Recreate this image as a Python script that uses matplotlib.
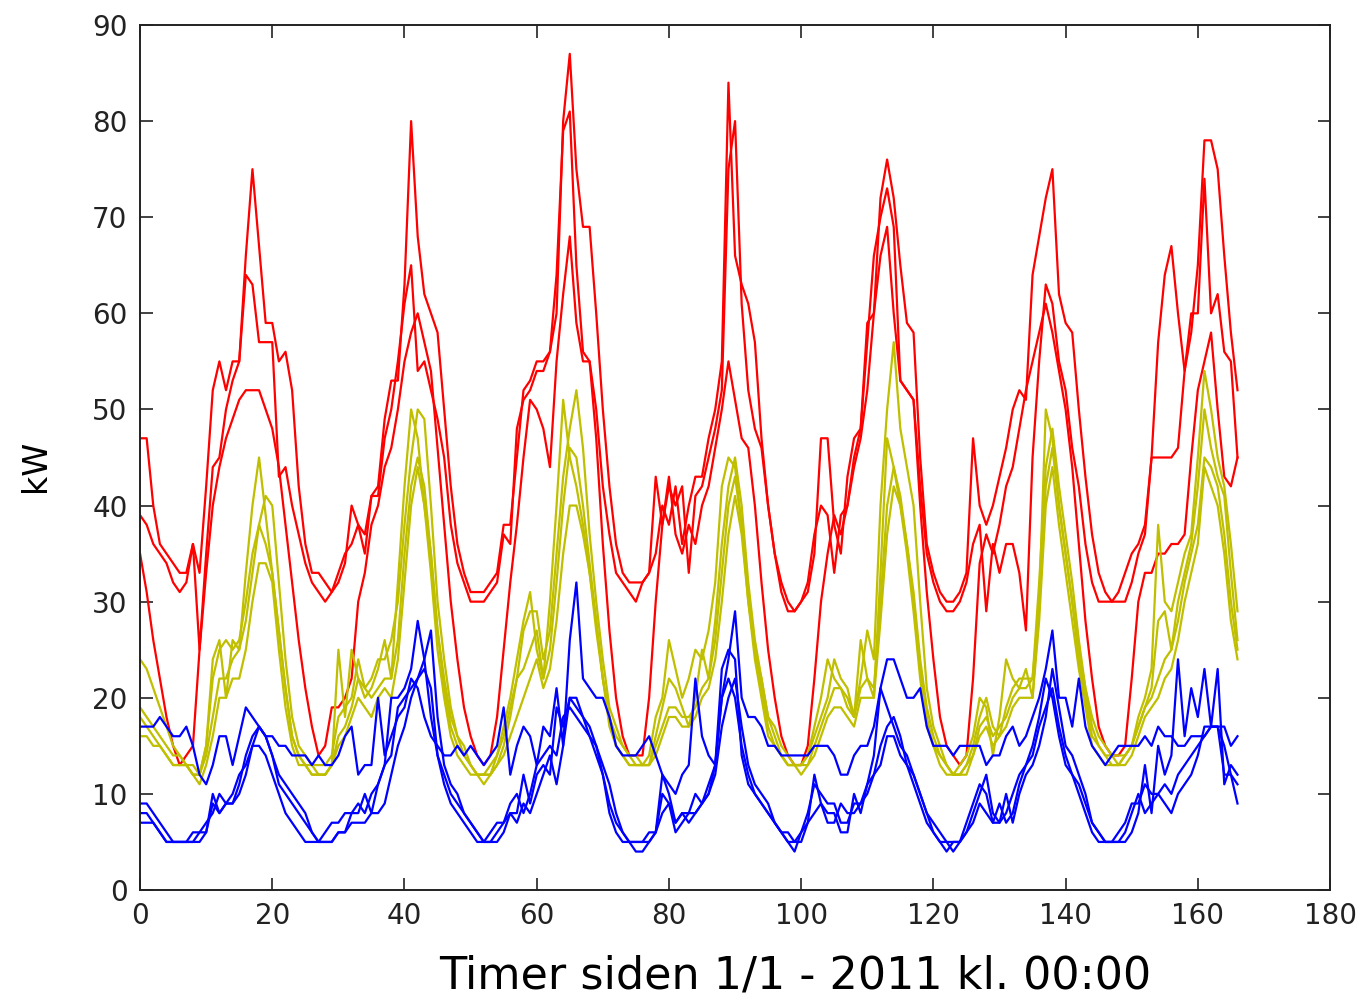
import numpy as np
import matplotlib
matplotlib.use('Agg')
import matplotlib.pyplot as plt

# hourly load per line, one list per day (last day has 23 hours)
red_1 = [
    [47,47,40,36,35,34,33,33,36,33,42,52,55,52,55,55,66,75,67,59,59,55,56,52],
    [42,36,33,33,32,31,32,34,40,38,35,41,42,49,53,53,63,80,68,62,60,58,50,42],
    [36,33,31,31,31,32,33,38,38,45,52,53,55,55,56,60,80,87,75,69,69,60,50,42],
    [36,33,32,32,32,33,35,40,38,42,36,40,43,43,47,50,55,84,66,63,61,57,47,40],
    [35,32,30,29,30,31,35,47,47,38,35,43,47,48,59,60,72,76,72,65,59,58,45,36],
    [33,31,30,30,31,33,47,40,38,40,43,46,50,52,51,64,68,72,75,62,59,58,50,43],
    [37,33,31,30,30,30,32,35,37,45,57,64,67,60,54,58,65,78,78,75,66,58,52],
]
red_2 = [
    [39,38,36,35,34,32,31,32,36,25,35,44,45,50,53,55,64,63,57,57,57,43,44,40],
    [37,34,32,31,30,31,33,35,36,38,37,41,41,47,50,55,61,65,54,55,52,49,45,38],
    [34,32,30,30,30,31,32,37,36,48,51,52,54,54,56,64,79,81,65,56,55,50,42,37],
    [33,32,31,30,32,33,43,38,42,40,42,33,41,42,45,48,52,75,80,61,52,48,46,40],
    [35,31,29,29,30,32,37,40,39,33,39,40,45,48,57,66,70,73,69,53,52,51,42,35],
    [32,30,29,29,30,32,36,38,29,36,33,36,36,33,27,45,55,63,61,55,52,46,42,36],
    [32,30,30,30,31,33,35,36,38,45,45,45,45,46,54,60,60,74,60,62,56,55,45],
]
red_3 = [
    [35,31,26,22,18,15,13,14,15,25,33,40,44,47,49,51,52,52,52,50,48,44,38,32],
    [26,21,17,14,15,19,19,20,22,30,33,38,40,44,46,50,55,58,60,57,54,46,38,30],
    [24,19,16,14,13,14,18,25,32,38,45,51,50,48,44,55,62,68,59,55,55,47,36,27],
    [20,16,14,14,14,20,30,38,43,37,35,38,36,40,42,46,50,55,51,47,46,40,32,25],
    [20,16,14,13,13,15,22,30,35,39,37,40,44,47,52,60,66,69,60,53,52,51,40,31],
    [24,18,15,14,13,14,22,34,37,35,38,42,44,48,52,55,58,61,58,54,50,44,36,28],
    [22,17,15,14,14,15,22,30,33,33,35,35,36,36,37,45,52,55,58,50,43,42,45],
]
yellow_1 = [
    [24,23,21,19,17,15,14,13,12,12,15,24,26,20,26,25,33,40,45,39,33,27,21,16],
    [14,13,13,12,12,13,25,18,25,22,20,21,23,26,22,32,42,50,47,40,35,27,22,18],
    [16,14,13,12,12,13,14,17,20,24,28,31,25,22,30,40,51,45,42,38,33,28,22,18],
    [16,15,14,13,13,14,18,20,26,23,20,22,25,24,27,32,42,45,44,38,30,25,22,18],
    [16,14,13,13,13,14,17,20,24,22,21,19,18,22,27,24,40,50,57,48,44,40,30,21],
    [17,15,13,12,13,14,16,20,19,14,18,24,22,21,23,20,30,50,47,40,35,30,25,21],
    [17,15,14,14,13,14,15,18,20,23,38,30,29,32,35,37,45,54,50,45,42,36,29],
]
yellow_2 = [
    [19,18,17,16,15,14,14,13,13,12,15,22,25,26,25,26,30,35,38,41,40,32,24,18],
    [15,14,13,13,13,14,18,19,20,24,21,22,24,24,26,30,38,45,50,49,40,30,24,19],
    [16,15,13,12,12,12,14,16,19,22,27,29,29,24,27,35,43,48,52,46,37,30,24,19],
    [17,15,14,14,13,13,16,19,22,21,19,17,20,25,22,28,36,42,45,40,32,26,22,18],
    [17,15,14,13,13,14,16,18,20,24,22,21,18,26,22,20,33,47,44,40,36,31,24,19],
    [16,14,13,12,12,13,15,18,20,17,16,19,21,22,22,22,32,44,48,42,37,32,26,21],
    [18,16,15,14,14,14,15,17,19,21,28,29,25,30,33,36,42,50,46,43,41,33,26],
]
yellow_3 = [
    [18,17,16,15,14,13,13,13,12,12,14,18,22,22,24,25,28,33,38,36,33,27,21,16],
    [14,13,12,12,12,13,16,17,19,22,21,20,21,22,22,26,35,42,45,42,35,27,21,17],
    [15,14,13,12,12,12,13,15,18,22,23,25,27,22,25,32,40,46,45,40,34,28,22,18],
    [15,14,13,13,13,13,15,17,19,19,18,18,19,21,22,26,33,40,43,38,31,25,21,17],
    [15,14,13,13,13,13,15,17,19,21,21,20,18,21,22,21,30,40,44,41,36,30,23,18],
    [15,14,13,12,12,13,14,17,18,16,17,18,20,21,21,22,30,42,46,40,35,30,24,20],
    [16,15,14,13,13,14,15,17,19,20,22,24,25,28,32,35,38,45,44,42,37,30,25],
]
yellow_4 = [
    [16,16,15,15,14,13,13,13,12,11,13,16,20,20,22,22,25,30,34,34,32,25,19,15],
    [13,13,12,12,12,13,15,16,18,20,19,18,20,21,20,24,32,40,44,40,33,25,20,16],
    [14,13,12,12,11,12,13,14,16,18,20,22,24,21,23,28,35,40,40,37,33,27,22,17],
    [15,14,13,13,13,13,14,16,18,18,17,17,18,20,21,24,30,37,41,37,30,24,20,16],
    [15,14,13,13,12,13,14,16,18,19,19,18,17,20,20,20,28,37,42,40,35,29,22,17],
    [15,13,12,12,12,12,14,16,17,15,16,17,19,20,20,20,28,40,44,38,33,28,23,19],
    [15,14,13,13,13,13,14,16,18,19,20,22,23,26,30,33,36,44,42,40,35,28,24],
]
blue_1 = [
    [17,17,17,18,17,16,16,17,15,12,11,13,16,16,13,16,19,18,17,16,16,15,15,14],
    [14,14,13,14,13,13,14,16,17,12,13,13,20,14,16,18,19,22,21,18,16,15,14,14],
    [15,14,15,14,13,14,15,19,12,15,17,16,13,17,16,21,15,26,32,22,21,20,20,18],
    [15,14,14,14,15,16,14,12,11,10,12,13,22,16,14,13,20,24,29,20,18,18,17,15],
    [15,14,14,14,14,14,15,15,15,14,12,12,14,15,15,17,21,24,24,22,20,20,21,17],
    [15,15,15,14,15,15,15,15,13,14,14,16,17,15,16,18,20,23,27,20,20,17,22,17],
    [15,14,13,14,15,15,15,15,16,15,17,16,16,15,15,16,16,16,17,17,17,15,16],
]
blue_2 = [
    [9,9,8,7,6,5,5,5,5,5,6,10,8,9,9,11,14,16,17,16,14,11,10,9],
    [8,7,6,5,5,5,6,6,8,8,10,8,11,13,20,20,21,23,28,24,18,14,12,10],
    [9,8,7,6,5,5,5,6,8,7,9,8,10,12,14,11,15,20,19,18,17,15,12,9],
    [7,6,5,5,5,5,6,12,10,7,8,8,10,9,10,13,23,25,24,14,11,10,9,8],
    [7,6,5,4,6,7,12,9,8,8,6,6,10,8,11,14,21,19,17,15,14,12,10,8],
    [6,5,5,4,5,6,8,10,12,8,7,10,7,10,12,13,15,18,23,19,15,14,12,10],
    [7,6,5,5,5,5,6,8,13,8,15,12,14,24,16,21,18,23,17,23,11,13,12],
]
blue_3 = [
    [8,8,7,6,5,5,5,5,5,6,6,9,8,9,9,10,12,15,17,16,14,12,11,10],
    [9,8,6,5,5,5,6,6,7,7,7,8,8,9,12,15,17,20,22,24,27,18,13,11],
    [10,8,7,6,5,5,6,7,8,8,12,9,12,13,12,19,17,20,20,18,16,14,12,8],
    [6,5,5,4,4,5,6,10,9,6,7,8,8,9,11,13,20,22,20,15,12,10,9,8],
    [7,6,5,5,6,8,11,10,9,9,7,7,9,9,10,12,15,17,18,16,13,11,9,7],
    [6,5,4,5,5,7,9,11,10,7,9,7,8,11,13,15,18,22,20,16,13,12,10,8],
    [6,5,5,5,5,6,8,10,8,9,10,9,8,10,11,12,14,17,17,17,12,12,11],
]
blue_4 = [
    [7,7,7,6,5,5,5,5,6,6,7,8,10,9,10,12,13,15,15,14,12,10,8,7],
    [6,5,5,5,6,7,7,8,8,9,8,10,11,13,14,19,20,21,22,23,21,14,11,9],
    [8,7,6,5,5,6,7,7,9,10,8,10,13,14,15,14,18,19,18,17,16,15,13,11],
    [8,6,5,5,5,6,6,8,9,7,8,7,8,9,10,12,17,20,22,17,13,11,10,9],
    [7,6,6,5,5,7,8,9,7,7,9,8,8,9,11,12,13,16,16,14,13,12,10,8],
    [7,6,5,5,5,6,7,9,8,7,7,8,10,12,13,14,17,19,21,17,14,12,11,9],
    [7,6,5,5,6,7,9,9,11,10,10,11,10,12,13,14,15,16,17,17,15,12,9],
]

series = [(red_1, 'r'), (red_2, 'r'), (red_3, 'r'),
          (yellow_1, 'y'), (yellow_2, 'y'), (yellow_3, 'y'), (yellow_4, 'y'),
          (blue_1, 'b'), (blue_2, 'b'), (blue_3, 'b'), (blue_4, 'b')]
colors = {'r': '#ff0000', 'y': '#bfbf00', 'b': '#0000ff'}

fig = plt.figure(figsize=(13.65, 10), dpi=100)
ax = fig.add_axes([0.1026, 0.11, 0.8718, 0.865])

for days, c in series:
    values = np.concatenate([np.array(d, dtype=float) for d in days])
    hours = np.arange(len(values))
    ax.plot(hours, values, color=colors[c], linewidth=1.6)

ax.set_xlim(0, 180)
ax.set_ylim(0, 90)
ax.set_xticks(np.arange(0, 181, 20))
ax.set_yticks(np.arange(0, 91, 10))
ax.tick_params(direction='in', length=9, width=1.2, top=True, right=True,
               labelsize=20, pad=9, colors='#222222')
for s in ax.spines.values():
    s.set_linewidth(1.4)
    s.set_color('#222222')

ax.set_xlabel('Timer siden 1/1 - 2011 kl. 00:00', fontsize=32)
ax.xaxis.set_label_coords(0.551, -0.074)
ax.set_ylabel('kW', fontsize=24)
ax.yaxis.set_label_coords(-0.074, 0.49)

fig.savefig('out.png', dpi=100)
